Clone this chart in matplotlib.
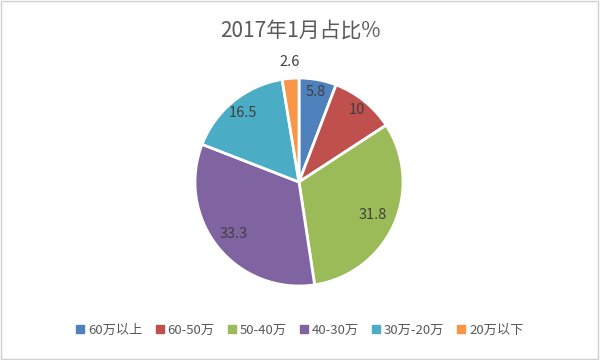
import matplotlib
matplotlib.use("Agg")
import matplotlib.pyplot as plt
import numpy as np
from matplotlib.patches import Rectangle

plt.rcParams['font.family'] = ['Noto Sans CJK SC', 'DejaVu Sans']

title = "2017年1月占比%"
categories = ["60万以上", "60-50万", "50-40万", "40-30万", "30万-20万", "20万以下"]
values = [5.8, 10, 31.8, 33.3, 16.5, 2.6]
labels = ["5.8", "10", "31.8", "33.3", "16.5", "2.6"]
colors = ["#4F81BD", "#C0504D", "#9BBB59", "#8064A2", "#4BACC6", "#F79646"]
label_r = [0.88, 0.89, 0.78, 0.80, 0.86, 1.16]

fig = plt.figure(figsize=(6, 3.6), dpi=100)
fig.patch.set_facecolor("white")
fig.add_artist(Rectangle((0.002, 0.003), 0.995, 0.993, transform=fig.transFigure,
                         fill=False, edgecolor="#D0D0D0", linewidth=1))

cx, cy, r = 299, 182, 104
ax = fig.add_axes([(cx - r) / 600, (360 - cy - r) / 360, 2 * r / 600, 2 * r / 360])
wedges, _ = ax.pie(values, colors=colors, startangle=90, counterclock=False,
                   wedgeprops=dict(edgecolor="white", linewidth=2))
ax.set_xlim(-1, 1)
ax.set_ylim(-1, 1)
ax.set_aspect("equal")
ax.axis("off")

total = sum(values)
cum = 0
for v, lab, d in zip(values, labels, label_r):
    mid = np.deg2rad(90 - (cum + v / 2) / total * 360)
    cum += v
    ax.text(d * np.cos(mid), d * np.sin(mid), lab, ha="center", va="center",
            fontsize=10.5, color="#404040", clip_on=False)

fig.text(0.5, 0.915, title, ha="center", va="center", fontsize=15, color="#595959")

handles = [plt.Rectangle((0, 0), 1, 1, color=c) for c in colors]
fig.legend(handles, categories, loc="center", bbox_to_anchor=(0.5, 0.083), ncol=6,
           frameon=False, fontsize=9.5, labelcolor="#595959", handlelength=0.6,
           handleheight=0.6, handletextpad=0.3, columnspacing=1.0)

fig.savefig("out.png", dpi=100)
